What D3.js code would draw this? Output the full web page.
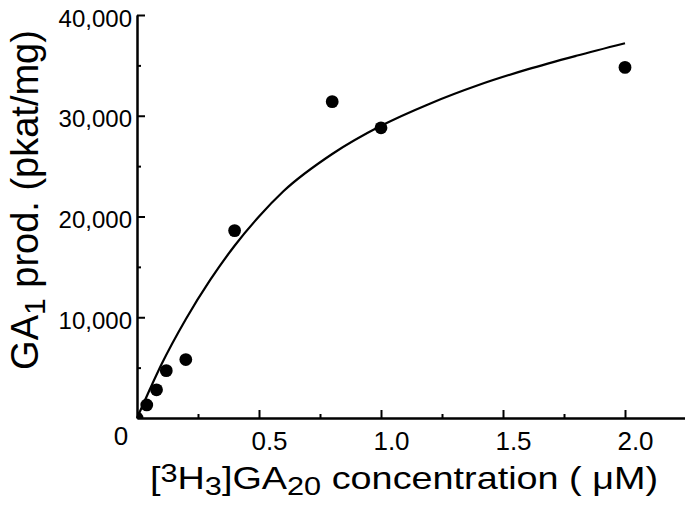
<!DOCTYPE html>
<html><head><meta charset="utf-8">
<script src="https://cdn.jsdelivr.net/npm/d3@7/dist/d3.min.js"></script>
<style>
body{margin:0;background:#fff}
svg{display:block}
text{font-family:"Liberation Sans",Arial,Helvetica,sans-serif;fill:#000}
</style>
</head><body>
<svg id="chart" width="685" height="505"></svg>
<script>
// measured data points
const concentrations = [0, 0.04, 0.08, 0.12, 0.2, 0.4, 0.8, 1.0, 2.0];
const production     = [0, 1300, 2800, 4700, 5800, 18600, 31400, 28800, 34800];
// fitted curve
const fitConc = [0, 0.05, 0.1, 0.2, 0.3, 0.4, 0.5, 0.6, 0.8, 1.0, 1.2, 1.4, 1.6, 1.8, 2.0];
const fitProd = [0, 2700, 5300, 9800, 13700, 17100, 20000, 22500, 26200, 29000, 31200, 33050, 34600, 35950, 37200];
// ticks
const xMajorTicks = [0.5, 1.0, 1.5, 2.0];
const xMajorLabels = ["0.5", "1.0", "1.5", "2.0"];
const xMinorTicks = [0.25, 0.75, 1.25, 1.75];
const xZeroLabel = "0";
const yMajorTicks = [10000, 20000, 30000, 40000];
const yMajorLabels = ["10,000", "20,000", "30,000", "40,000"];
const yMinorTicks = [5000, 15000, 25000, 35000];

const svg = d3.select("#chart");
const x = d3.scaleLinear().domain([0, 2.25]).range([137, 686]);
const y = d3.scaleLinear().domain([0, 40000]).range([418, 15]);

// clip
svg.append("clipPath").attr("id", "plotclip")
  .append("rect").attr("x", x(0)).attr("y", 0).attr("width", 685 - x(0)).attr("height", y(0));

// x axis
svg.append("g").attr("transform", `translate(0,${y(0)})`)
  .call(d3.axisBottom(x).tickValues(xMinorTicks).tickSize(-4).tickSizeOuter(0).tickFormat(""));
const xMajor = svg.append("g").attr("transform", `translate(0,${y(0)})`)
  .call(d3.axisBottom(x).tickValues(xMajorTicks).tickSize(-8).tickSizeOuter(0)
    .tickFormat((d, i) => xMajorLabels[i]).tickPadding(14));
xMajor.selectAll("text").attr("x", 10).attr("y", 32).attr("dy", 0)
  .style("font-size", "26px");

// y axis
svg.append("g").attr("transform", `translate(${x(0)},0)`)
  .call(d3.axisLeft(y).tickValues(yMinorTicks).tickSize(-4).tickSizeOuter(0).tickFormat(""));
const yMajor = svg.append("g").attr("transform", `translate(${x(0)},0)`)
  .call(d3.axisLeft(y).tickValues(yMajorTicks).tickSize(-8).tickSizeOuter(0)
    .tickFormat((d, i) => yMajorLabels[i]));
yMajor.selectAll("text").attr("x", -5).attr("dy", 0).attr("y", 11)
  .style("font-size", "24px");

svg.selectAll(".domain, .tick line").attr("stroke", "#000").attr("stroke-width", 2);
svg.selectAll(".tick text").attr("fill", "#000").style("font-family", '"Liberation Sans",Arial,sans-serif');

svg.append("text").attr("x", x(0) - 16).attr("y", 445).attr("text-anchor", "middle")
  .style("font-size", "26px").text(xZeroLabel);

// fitted curve
const fitData = fitConc.map((c, i) => [c, fitProd[i]]);
svg.append("path").datum(fitData)
  .attr("fill", "none").attr("stroke", "#000").attr("stroke-width", 2.2)
  .attr("d", d3.line().x(d => x(d[0])).y(d => y(d[1])).curve(d3.curveMonotoneX));

// points
svg.append("g").attr("clip-path", "url(#plotclip)")
  .selectAll("circle").data(concentrations.map((c, i) => [c, production[i]])).join("circle")
  .attr("cx", d => x(d[0])).attr("cy", d => y(d[1])).attr("r", 6.4).attr("fill", "#000");

// x title
const xt = svg.append("text").attr("x", 150).attr("y", 489).style("font-size", "32px")
  .attr("textLength", 508).attr("lengthAdjust", "spacingAndGlyphs");
xt.append("tspan").text("[");
xt.append("tspan").attr("dy", -7).style("font-size", "26px").text("3");
xt.append("tspan").attr("dy", 7).text("H");
xt.append("tspan").attr("dy", 6).style("font-size", "26px").text("3");
xt.append("tspan").attr("dy", -6).text("]GA");
xt.append("tspan").attr("dy", 6).style("font-size", "26px").text("20");
xt.append("tspan").attr("dy", -6).text(" concentration ( \u03bcM)");

// y title
const yt = svg.append("text").attr("transform", "translate(38,200) rotate(-90)")
  .attr("text-anchor", "middle").style("font-size", "38px");
yt.append("tspan").text("GA");
yt.append("tspan").attr("dy", 7).style("font-size", "30px").text("1");
yt.append("tspan").attr("dy", -7).text(" prod. (pkat/mg)");
</script>
</body></html>
